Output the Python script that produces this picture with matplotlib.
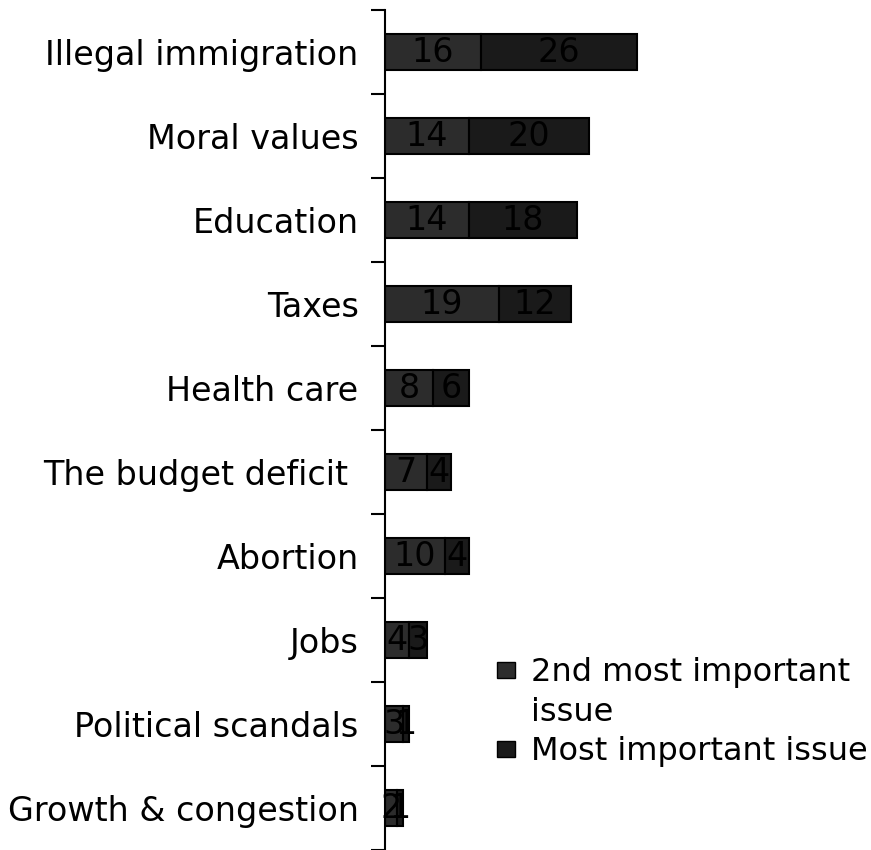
import matplotlib.pyplot as plt
from matplotlib.patches import Patch

categories = ['Illegal immigration', 'Moral values', 'Education', 'Taxes', 'Health care',
              'The budget deficit ', 'Abortion', 'Jobs', 'Political scandals', 'Growth & congestion']
second_issue = [16, 14, 14, 19, 8, 7, 10, 4, 3, 2]
most_issue = [26, 20, 18, 12, 6, 4, 4, 3, 1, 1]
series_names = ['2nd most important', 'issue', 'Most important issue']
colors = ['#2c2c2c', '#1a1a1a']

plt.rcParams['font.family'] = ['DejaVu Sans']

fig = plt.figure(figsize=(8.71, 8.5), dpi=100)
ax = fig.add_axes([385 / 871, 0.0, 1 - 385 / 871, 840 / 850])

y = list(range(len(categories)))
ax.barh(y, second_issue, height=0.44, color=colors[0], edgecolor='black', linewidth=1.5)
ax.barh(y, most_issue, left=second_issue, height=0.44, color=colors[1], edgecolor='black', linewidth=1.5)

for i in y:
    ax.text(second_issue[i] / 2, i, str(second_issue[i]), ha='center', va='center',
            fontsize=24, color='black')
    ax.text(second_issue[i] + most_issue[i] / 2, i, str(most_issue[i]), ha='center', va='center',
            fontsize=24, color='black')

ax.set_ylim(len(categories) - 0.5, -0.5)
ax.set_xlim(0, 81)
ax.set_yticks(y)
ax.set_yticklabels(categories, fontsize=24)
ax.set_yticks([i - 0.5 for i in range(len(categories) + 1)], minor=True)
ax.tick_params(axis='y', which='major', length=0, pad=19)
ax.tick_params(axis='y', which='minor', length=10, width=1.5)
ax.set_xticks([])
for s in ['top', 'right', 'bottom']:
    ax.spines[s].set_visible(False)
ax.spines['left'].set_linewidth(1.5)

# second line of the first legend entry is a separate, handle-less row
handles = [Patch(facecolor=colors[0], edgecolor='black'),
           Patch(facecolor='none', edgecolor='none'),
           Patch(facecolor=colors[1], edgecolor='black')]
fig.legend(handles, series_names, loc='upper left', bbox_to_anchor=(497 / 871, 1 - 657 / 850),
           frameon=False, fontsize=23, handlelength=0.55, handleheight=0.4, handletextpad=0.5,
           labelspacing=0.27, borderpad=0, borderaxespad=0)

fig.savefig('out.png', dpi=100)
